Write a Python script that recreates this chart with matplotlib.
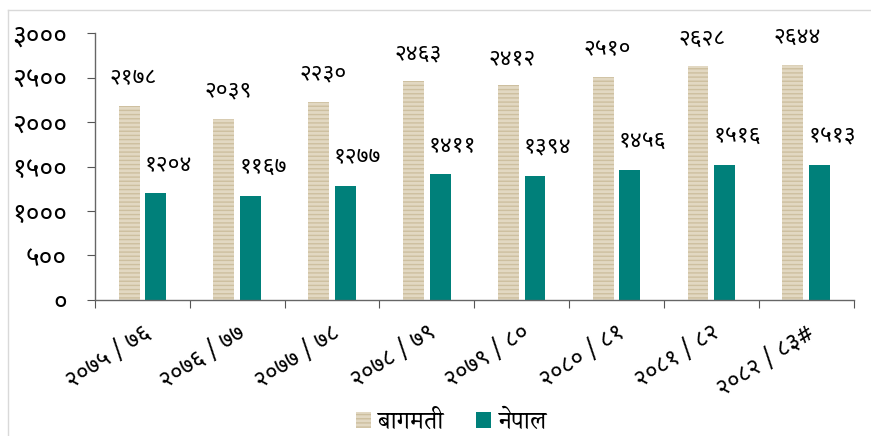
import matplotlib
matplotlib.use("Agg")
import matplotlib.pyplot as plt
from matplotlib.lines import Line2D
from matplotlib.patches import Patch
import numpy as np

# data (Nepali fiscal years)
years = ['२०७५ / ७६', '२०७६ / ७७', '२०७७ / ७८', '२०७८ / ७९',
         '२०७९ / ८०', '२०८० / ८१', '२०८१ / ८२', '२०८२ / ८३#']
bagmati = [2178, 2039, 2230, 2463, 2412, 2510, 2628, 2644]
nepal = [1204, 1167, 1277, 1411, 1394, 1456, 1516, 1513]
yticks = [0, 500, 1000, 1500, 2000, 2500, 3000]
series_names = ['बागमती', 'नेपाल']

NUM_FONT = ['Noto Sans Devanagari', 'Mukta', 'DejaVu Sans']
TXT_FONT = ['Noto Serif Devanagari', 'Noto Sans Devanagari', 'Mukta', 'DejaVu Sans']
BEIGE = '#e2d8c2'
TEAL = '#00807a'

dev = str.maketrans('0123456789', '०१२३४५६७८९')


def to_dev(v):
    return str(v).translate(dev)


fig = plt.figure(figsize=(8.71, 4.36), dpi=100)
ax = fig.add_axes([0.109, 0.312, 0.871, 0.612])

x = np.arange(len(years))
w = 0.22
b1 = ax.bar(x + 0.36, bagmati, w, color=BEIGE, hatch='----',
            edgecolor='#cdbf9f', linewidth=0)
b2 = ax.bar(x + 0.64, nepal, w, color=TEAL, linewidth=0)

for rect, v in zip(b1, bagmati):
    ax.annotate(to_dev(v), (rect.get_x() + rect.get_width() / 2, v),
                xytext=(3, 20), textcoords='offset points', ha='center',
                va='center', fontsize=16.5, family=NUM_FONT)
for rect, v in zip(b2, nepal):
    ax.annotate(to_dev(v), (rect.get_x() + rect.get_width() / 2, v),
                xytext=(9, 21), textcoords='offset points', ha='center',
                va='center', fontsize=16.5, family=NUM_FONT)

ax.set_xlim(0, len(years))
ax.set_ylim(0, 3000)
ax.set_yticks(yticks)
ax.set_yticklabels([to_dev(t) for t in yticks], family=NUM_FONT, fontsize=19)
ax.set_xticks(np.arange(len(years) + 1))
ax.set_xticklabels([])
ax.set_xticks(x + 0.5, minor=True)
ax.set_xticklabels(years, minor=True, rotation=33, ha='right',
                   rotation_mode='anchor', family=NUM_FONT, fontsize=17)
ax.tick_params(axis='x', which='minor', length=0, pad=15)
ax.tick_params(axis='both', which='major', length=6, color='#555555',
               direction='out')
ax.tick_params(axis='y', pad=14)

for s in ['top', 'right']:
    ax.spines[s].set_visible(False)
for s in ['left', 'bottom']:
    ax.spines[s].set_color('#666666')
    ax.spines[s].set_linewidth(1)

handles = [Patch(facecolor=BEIGE, edgecolor='#cdbf9f', hatch='----', linewidth=0),
           Patch(facecolor=TEAL, linewidth=0)]
fig.legend(handles, series_names, loc='center', bbox_to_anchor=(0.518, 0.032),
           ncol=2, frameon=False, prop={'family': TXT_FONT, 'size': 18},
           handlelength=0.6, handleheight=0.6, handletextpad=0.3,
           columnspacing=1.3)

# thin frame lines at the top and left of the chart area
fig.add_artist(Line2D([8 / 871, 1], [1 - 10 / 436, 1 - 10 / 436],
                      color='#d9d9d9', lw=1, transform=fig.transFigure))
fig.add_artist(Line2D([8 / 871, 8 / 871], [0, 1 - 10 / 436],
                      color='#d9d9d9', lw=1, transform=fig.transFigure))

fig.savefig('out.png', dpi=100)
